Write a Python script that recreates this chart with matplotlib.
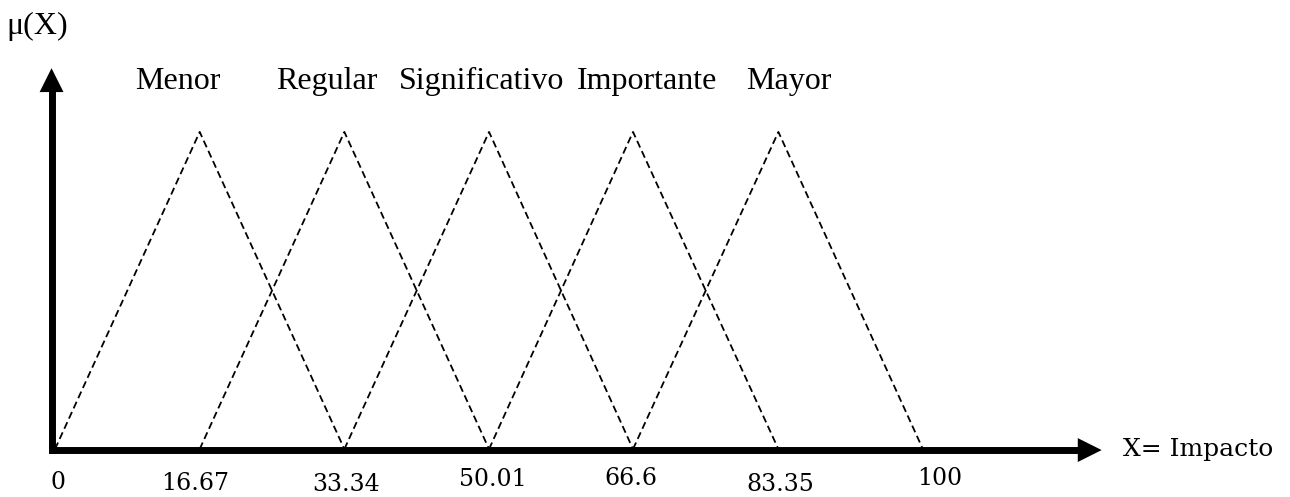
import matplotlib.pyplot as plt

# fuzzy sets for "Impacto": (left foot, peak, right foot)
set_names = ["Menor", "Regular", "Significativo", "Importante", "Mayor"]
left_feet = [0, 16.67, 33.34, 50.01, 66.6]
peaks = [16.67, 33.34, 50.01, 66.6, 83.35]
right_feet = [33.34, 50.01, 66.6, 83.35, 100]

tick_values = [0, 16.67, 33.34, 50.01, 66.6, 83.35, 100]
tick_labels = ["0", "16.67", "33.34", "50.01", "66.6", "83.35", "100"]

# hand placement of the labels (offsets in points)
tick_dx = [2, -3, 1, 3, -1.5, 1.5, 12]
tick_dy = [-1, -2, -3, 1, 1.5, -2.5, 2]
name_x = [14.2, 31.3, 49.2, 68.2, 84.6]

fig = plt.figure(figsize=(12.9, 4.97), dpi=100)
ax = fig.add_axes([0, 0, 1, 1])
ax.set_xlim(-6.34, 142.3)
ax.set_ylim(-0.151, 1.416)
ax.axis("off")

# triangles
for a, b, c in zip(left_feet, peaks, right_feet):
    ax.plot([a, b, c], [0, 1, 0], color="black", lw=1.3,
            linestyle=(0, (4, 2.2)))

# thick axes, square corner at the origin
x0, y0 = -0.4, -0.003
ax.plot([x0, x0], [y0, 1.14], color="black", lw=5,
        solid_capstyle="projecting")
ax.plot([x0, 117.5], [y0, y0], color="black", lw=5,
        solid_capstyle="projecting")

head = dict(arrowstyle="-|>,head_length=0.86,head_width=0.43",
            lw=0, color="black", shrinkA=0, shrinkB=0, mutation_scale=20)
ax.annotate("", xy=(x0, 1.201), xytext=(x0, 1.1), arrowprops=head)
ax.annotate("", xy=(120.6, y0), xytext=(116.0, y0), arrowprops=head)

# set names above the peaks
for name, x in zip(set_names, name_x):
    ax.text(x, 1.136, name, ha="center", va="baseline", fontsize=23,
            family="Liberation Serif")

for v, lab, dx, dy in zip(tick_values, tick_labels, tick_dx, tick_dy):
    ax.annotate(lab, (v, -0.1), xytext=(dx, dy), textcoords="offset points",
                ha="center", va="center", fontsize=17, family="DejaVu Serif")

ax.text(-5.6, 1.334, "\u03bc(X)", ha="left", va="center", fontsize=23,
        family="Liberation Serif")
ax.text(123.0, 0.0, "X= Impacto", ha="left", va="center", fontsize=18,
        family="DejaVu Serif")

fig.savefig("out.png", dpi=100)
